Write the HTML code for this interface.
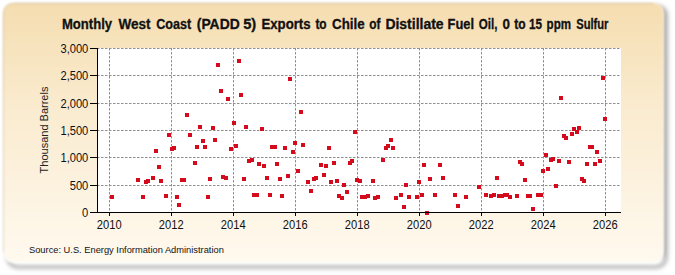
<!DOCTYPE html>
<html><head><meta charset="utf-8"><style>
html,body{margin:0;padding:0;background:#fff;}
svg{display:block;font-family:"Liberation Sans",sans-serif;}
</style></head><body>
<svg width="675" height="275" viewBox="0 0 675 275">
<defs>
<linearGradient id="bg" x1="0" y1="0" x2="0" y2="1">
<stop offset="0" stop-color="#F5DDB0"/>
<stop offset="0.4" stop-color="#FAEBCF"/>
<stop offset="1" stop-color="#FFF9EE"/>
</linearGradient>
<filter id="sh" x="-5%" y="-5%" width="115%" height="120%">
<feGaussianBlur stdDeviation="2"/>
</filter>
<filter id="soft" x="-2%" y="-2%" width="104%" height="104%">
<feGaussianBlur stdDeviation="0.8"/>
</filter>
</defs>
<rect x="0" y="0" width="675" height="275" fill="#fff"/>
<g filter="url(#sh)" fill="#b0b0b0"><rect x="8" y="5" width="660" height="253" rx="10" ry="10"/><rect x="8" y="8" width="658" height="259" rx="10" ry="10" fill="none" stroke="#b0b0b0" stroke-width="3.5"/></g>
<rect x="3" y="3" width="660.5" height="260" rx="10" ry="10" fill="#fff" fill-opacity="0.85" filter="url(#soft)"/>
<rect x="3" y="3" width="660.5" height="258.5" rx="10" ry="10" fill="url(#bg)" filter="url(#soft)"/>
<path d="M3.5,252 L3.5,13 A9.5,9.5 0 0 1 13,3.5 L653,3.5" fill="none" stroke="#a09070" stroke-opacity="0.3" stroke-width="1" filter="url(#soft)"/>
<rect x="98" y="48" width="523" height="164" fill="#fff"/>
<g stroke="#909090" stroke-width="1" stroke-dasharray="2.5,1.5" fill="none">
<line x1="97" y1="185.5" x2="621" y2="185.5"/><line x1="97" y1="157.5" x2="621" y2="157.5"/><line x1="97" y1="130.5" x2="621" y2="130.5"/><line x1="97" y1="103.5" x2="621" y2="103.5"/><line x1="97" y1="75.5" x2="621" y2="75.5"/><line x1="97" y1="48.5" x2="621" y2="48.5"/><line x1="109.5" y1="48" x2="109.5" y2="212"/><line x1="171.5" y1="48" x2="171.5" y2="212"/><line x1="233.5" y1="48" x2="233.5" y2="212"/><line x1="295.5" y1="48" x2="295.5" y2="212"/><line x1="357.5" y1="48" x2="357.5" y2="212"/><line x1="419.5" y1="48" x2="419.5" y2="212"/><line x1="481.5" y1="48" x2="481.5" y2="212"/><line x1="543.5" y1="48" x2="543.5" y2="212"/><line x1="605.5" y1="48" x2="605.5" y2="212"/>
</g>
<g font-size="12.6" fill="#111">
<text transform="translate(88.3,216.8) scale(0.885,1)" text-anchor="end">0</text><text transform="translate(88.3,189.8) scale(0.885,1)" text-anchor="end">500</text><text transform="translate(88.3,161.8) scale(0.885,1)" text-anchor="end">1,000</text><text transform="translate(88.3,134.8) scale(0.885,1)" text-anchor="end">1,500</text><text transform="translate(88.3,107.8) scale(0.885,1)" text-anchor="end">2,000</text><text transform="translate(88.3,79.8) scale(0.885,1)" text-anchor="end">2,500</text><text transform="translate(88.3,52.8) scale(0.885,1)" text-anchor="end">3,000</text><text transform="translate(109.2,228.7) scale(0.885,1)" text-anchor="middle">2010</text><text transform="translate(171.2,228.7) scale(0.885,1)" text-anchor="middle">2012</text><text transform="translate(233.2,228.7) scale(0.885,1)" text-anchor="middle">2014</text><text transform="translate(295.2,228.7) scale(0.885,1)" text-anchor="middle">2016</text><text transform="translate(357.2,228.7) scale(0.885,1)" text-anchor="middle">2018</text><text transform="translate(419.2,228.7) scale(0.885,1)" text-anchor="middle">2020</text><text transform="translate(481.2,228.7) scale(0.885,1)" text-anchor="middle">2022</text><text transform="translate(543.2,228.7) scale(0.885,1)" text-anchor="middle">2024</text><text transform="translate(605.2,228.7) scale(0.885,1)" text-anchor="middle">2026</text>
</g>
<g font-size="14" font-weight="bold" fill="#111" stroke="#111" stroke-width="0.3"><text x="62" y="29" textLength="50.02" lengthAdjust="spacingAndGlyphs">Monthly</text><text x="118.4" y="29" textLength="32.04" lengthAdjust="spacingAndGlyphs">West</text><text x="156.2" y="29" textLength="34.9" lengthAdjust="spacingAndGlyphs">Coast</text><text x="196.8" y="29" textLength="42.85" lengthAdjust="spacingAndGlyphs">(PADD</text><text x="243.2" y="29" textLength="13.08" lengthAdjust="spacingAndGlyphs">5)</text><text x="261.4" y="29" textLength="49.22" lengthAdjust="spacingAndGlyphs">Exports</text><text x="315.4" y="29" textLength="11.27" lengthAdjust="spacingAndGlyphs">to</text><text x="332" y="29" textLength="32.6" lengthAdjust="spacingAndGlyphs">Chile</text><text x="369.2" y="29" textLength="11.23" lengthAdjust="spacingAndGlyphs">of</text><text x="385.4" y="29" textLength="58.22" lengthAdjust="spacingAndGlyphs">Distillate</text><text x="447.6" y="29" textLength="26.45" lengthAdjust="spacingAndGlyphs">Fuel</text><text x="478.8" y="29" textLength="18.66" lengthAdjust="spacingAndGlyphs">Oil,</text><text x="502.6" y="29" textLength="7.43" lengthAdjust="spacingAndGlyphs">0</text><text x="514.2" y="29" textLength="11.35" lengthAdjust="spacingAndGlyphs">to</text><text x="529" y="29" textLength="13.09" lengthAdjust="spacingAndGlyphs">15</text><text x="546.6" y="29" textLength="24.41" lengthAdjust="spacingAndGlyphs">ppm</text><text x="576.2" y="29" textLength="32.25" lengthAdjust="spacingAndGlyphs">Sulfur</text></g>
<text transform="translate(48,130) rotate(-90)" font-size="11" text-anchor="middle" fill="#222">Thousand Barrels</text>
<text x="29" y="253" font-size="9.3" fill="#111">Source: U.S. Energy Information Administration</text>
<g fill="#D40B1D">
<rect x="216" y="63" width="4" height="4"/><rect x="219" y="89" width="4" height="4"/><rect x="226" y="97" width="4" height="4"/><rect x="185" y="113" width="4" height="4"/><rect x="198" y="125" width="4" height="4"/><rect x="211" y="126" width="4" height="4"/><rect x="232" y="121" width="4" height="4"/><rect x="167" y="133" width="4" height="4"/><rect x="188" y="133" width="4" height="4"/><rect x="201" y="139" width="4" height="4"/><rect x="213" y="138" width="4" height="4"/><rect x="154" y="149" width="4" height="4"/><rect x="170" y="147" width="4" height="4"/><rect x="172" y="146" width="4" height="4"/><rect x="195" y="145" width="4" height="4"/><rect x="203" y="145" width="4" height="4"/><rect x="229" y="147" width="4" height="4"/><rect x="157" y="165" width="4" height="4"/><rect x="193" y="161" width="4" height="4"/><rect x="136" y="178" width="4" height="4"/><rect x="144" y="180" width="4" height="4"/><rect x="146" y="179" width="4" height="4"/><rect x="151" y="176" width="4" height="4"/><rect x="159" y="179" width="4" height="4"/><rect x="180" y="178" width="4" height="4"/><rect x="182" y="178" width="4" height="4"/><rect x="208" y="177" width="4" height="4"/><rect x="221" y="175" width="4" height="4"/><rect x="224" y="176" width="4" height="4"/><rect x="110" y="195" width="4" height="4"/><rect x="141" y="195" width="4" height="4"/><rect x="164" y="194" width="4" height="4"/><rect x="175" y="195" width="4" height="4"/><rect x="206" y="195" width="4" height="4"/><rect x="177" y="203" width="4" height="4"/><rect x="237" y="59" width="4" height="4"/><rect x="288" y="77" width="4" height="4"/><rect x="239" y="93" width="4" height="4"/><rect x="299" y="110" width="4" height="4"/><rect x="244" y="125" width="4" height="4"/><rect x="260" y="127" width="4" height="4"/><rect x="353" y="130" width="4" height="4"/><rect x="234" y="144" width="4" height="4"/><rect x="270" y="145" width="4" height="4"/><rect x="273" y="145" width="4" height="4"/><rect x="283" y="146" width="4" height="4"/><rect x="293" y="141" width="4" height="4"/><rect x="301" y="143" width="4" height="4"/><rect x="291" y="150" width="4" height="4"/><rect x="327" y="146" width="4" height="4"/><rect x="247" y="159" width="4" height="4"/><rect x="250" y="158" width="4" height="4"/><rect x="257" y="162" width="4" height="4"/><rect x="262" y="164" width="4" height="4"/><rect x="275" y="162" width="4" height="4"/><rect x="242" y="177" width="4" height="4"/><rect x="265" y="176" width="4" height="4"/><rect x="278" y="177" width="4" height="4"/><rect x="286" y="174" width="4" height="4"/><rect x="252" y="193" width="4" height="4"/><rect x="255" y="193" width="4" height="4"/><rect x="268" y="193" width="4" height="4"/><rect x="280" y="194" width="4" height="4"/><rect x="296" y="169" width="4" height="4"/><rect x="319" y="163" width="4" height="4"/><rect x="324" y="164" width="4" height="4"/><rect x="332" y="161" width="4" height="4"/><rect x="348" y="161" width="4" height="4"/><rect x="350" y="159" width="4" height="4"/><rect x="322" y="173" width="4" height="4"/><rect x="306" y="180" width="4" height="4"/><rect x="312" y="177" width="4" height="4"/><rect x="314" y="176" width="4" height="4"/><rect x="329" y="180" width="4" height="4"/><rect x="335" y="179" width="4" height="4"/><rect x="342" y="183" width="4" height="4"/><rect x="355" y="178" width="4" height="4"/><rect x="358" y="179" width="4" height="4"/><rect x="309" y="189" width="4" height="4"/><rect x="345" y="190" width="4" height="4"/><rect x="337" y="194" width="4" height="4"/><rect x="340" y="196" width="4" height="4"/><rect x="360" y="195" width="4" height="4"/><rect x="389" y="138" width="4" height="4"/><rect x="384" y="146" width="4" height="4"/><rect x="386" y="144" width="4" height="4"/><rect x="391" y="146" width="4" height="4"/><rect x="381" y="158" width="4" height="4"/><rect x="422" y="163" width="4" height="4"/><rect x="438" y="163" width="4" height="4"/><rect x="371" y="179" width="4" height="4"/><rect x="404" y="183" width="4" height="4"/><rect x="417" y="180" width="4" height="4"/><rect x="428" y="177" width="4" height="4"/><rect x="441" y="176" width="4" height="4"/><rect x="477" y="185" width="4" height="4"/><rect x="363" y="195" width="4" height="4"/><rect x="366" y="194" width="4" height="4"/><rect x="373" y="196" width="4" height="4"/><rect x="376" y="195" width="4" height="4"/><rect x="394" y="196" width="4" height="4"/><rect x="399" y="193" width="4" height="4"/><rect x="407" y="195" width="4" height="4"/><rect x="415" y="195" width="4" height="4"/><rect x="420" y="193" width="4" height="4"/><rect x="433" y="193" width="4" height="4"/><rect x="453" y="193" width="4" height="4"/><rect x="464" y="195" width="4" height="4"/><rect x="484" y="193" width="4" height="4"/><rect x="489" y="194" width="4" height="4"/><rect x="402" y="205" width="4" height="4"/><rect x="456" y="204" width="4" height="4"/><rect x="425" y="211" width="4" height="4"/><rect x="601" y="76" width="4" height="4"/><rect x="559" y="96" width="4" height="4"/><rect x="603" y="117" width="4" height="4"/><rect x="572" y="127" width="4" height="4"/><rect x="577" y="126" width="4" height="4"/><rect x="575" y="130" width="4" height="4"/><rect x="570" y="132" width="4" height="4"/><rect x="562" y="134" width="4" height="4"/><rect x="564" y="136" width="4" height="4"/><rect x="588" y="145" width="4" height="4"/><rect x="590" y="145" width="4" height="4"/><rect x="595" y="150" width="4" height="4"/><rect x="544" y="153" width="4" height="4"/><rect x="518" y="160" width="4" height="4"/><rect x="520" y="162" width="4" height="4"/><rect x="549" y="158" width="4" height="4"/><rect x="551" y="157" width="4" height="4"/><rect x="557" y="159" width="4" height="4"/><rect x="567" y="160" width="4" height="4"/><rect x="585" y="162" width="4" height="4"/><rect x="593" y="162" width="4" height="4"/><rect x="598" y="159" width="4" height="4"/><rect x="541" y="169" width="4" height="4"/><rect x="546" y="167" width="4" height="4"/><rect x="495" y="176" width="4" height="4"/><rect x="523" y="178" width="4" height="4"/><rect x="580" y="177" width="4" height="4"/><rect x="582" y="179" width="4" height="4"/><rect x="554" y="184" width="4" height="4"/><rect x="492" y="193" width="4" height="4"/><rect x="497" y="194" width="4" height="4"/><rect x="500" y="194" width="4" height="4"/><rect x="503" y="193" width="4" height="4"/><rect x="505" y="193" width="4" height="4"/><rect x="508" y="195" width="4" height="4"/><rect x="515" y="194" width="4" height="4"/><rect x="526" y="194" width="4" height="4"/><rect x="528" y="194" width="4" height="4"/><rect x="536" y="193" width="4" height="4"/><rect x="539" y="193" width="4" height="4"/><rect x="531" y="207" width="4" height="4"/>
</g>
<g stroke="#000" stroke-width="1">
<line x1="97.5" y1="48" x2="97.5" y2="212.5"/>
<line x1="97" y1="212.5" x2="621" y2="212.5"/>
<line x1="90" y1="212.5" x2="98" y2="212.5"/><line x1="90" y1="185.5" x2="98" y2="185.5"/><line x1="90" y1="157.5" x2="98" y2="157.5"/><line x1="90" y1="130.5" x2="98" y2="130.5"/><line x1="90" y1="103.5" x2="98" y2="103.5"/><line x1="90" y1="75.5" x2="98" y2="75.5"/><line x1="90" y1="48.5" x2="98" y2="48.5"/><line x1="109.5" y1="212" x2="109.5" y2="216"/><line x1="171.5" y1="212" x2="171.5" y2="216"/><line x1="233.5" y1="212" x2="233.5" y2="216"/><line x1="295.5" y1="212" x2="295.5" y2="216"/><line x1="357.5" y1="212" x2="357.5" y2="216"/><line x1="419.5" y1="212" x2="419.5" y2="216"/><line x1="481.5" y1="212" x2="481.5" y2="216"/><line x1="543.5" y1="212" x2="543.5" y2="216"/><line x1="605.5" y1="212" x2="605.5" y2="216"/>
</g>
</svg>
</body></html>
